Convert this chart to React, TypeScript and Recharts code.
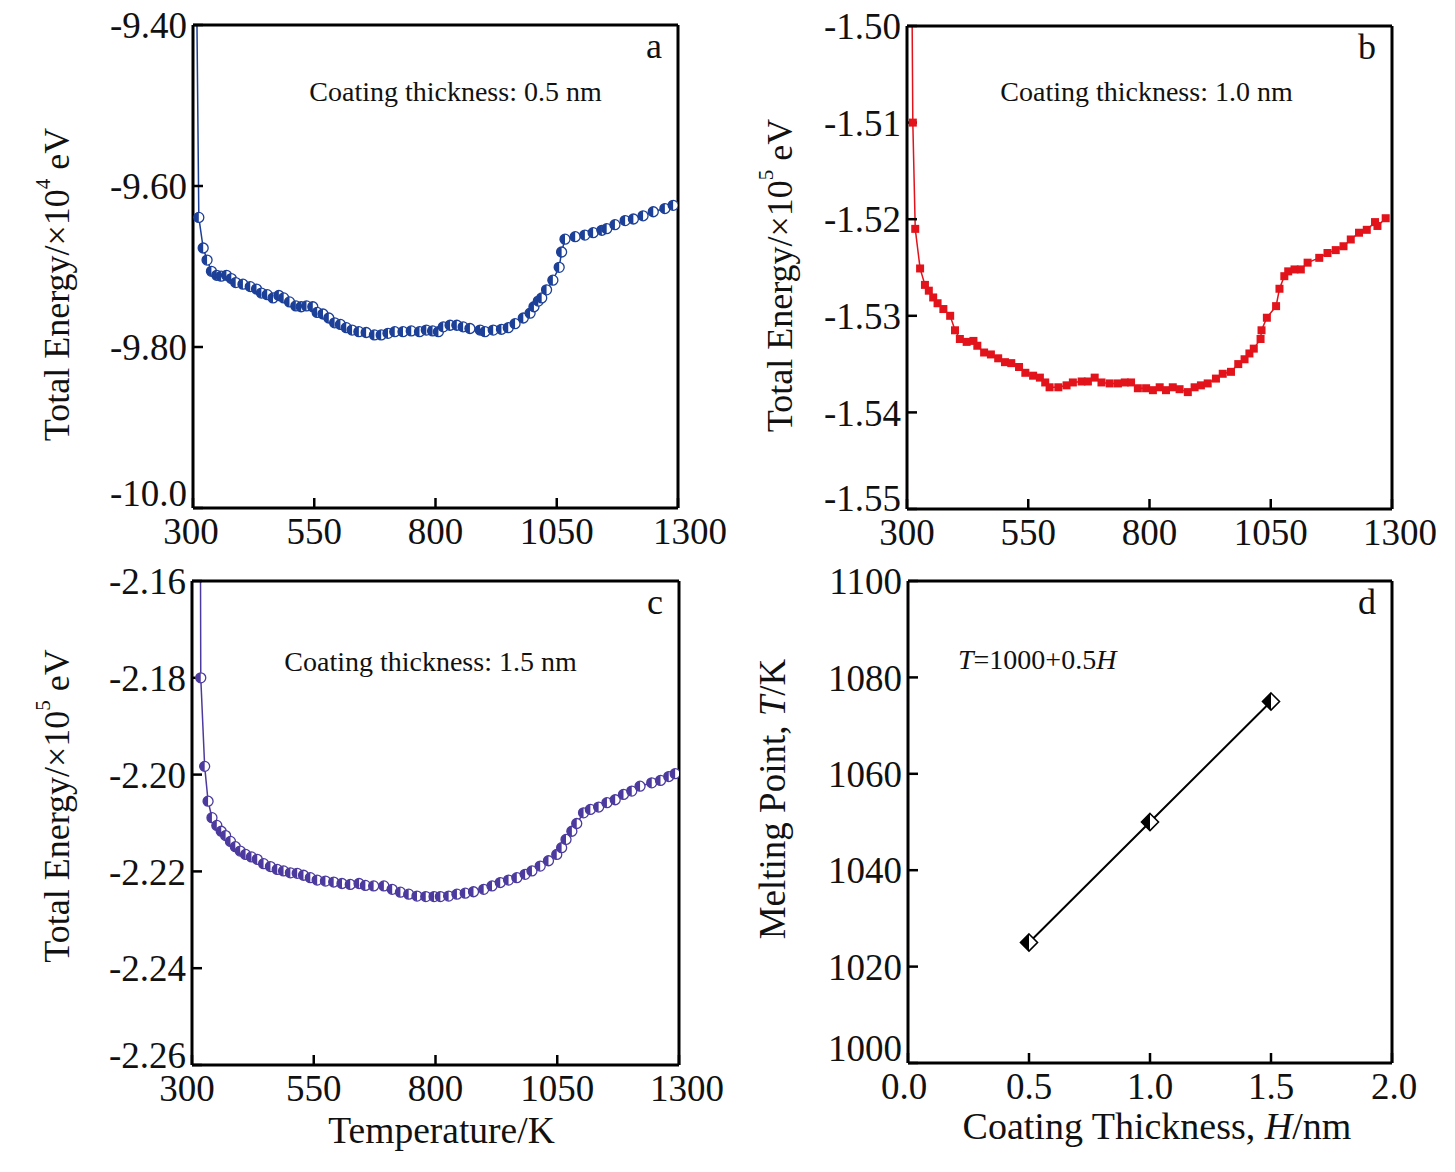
import React from 'react';
import { LineChart, Line, XAxis, YAxis } from 'recharts';

const SERIF = '"Liberation Serif", "Times New Roman", Times, serif';
const INK = '#111';

// shared temperature axis (a, b, c)
const tempTicks = [300, 550, 800, 1050, 1300];

// a: coating 0.5 nm, energy in 1e4 eV (first point is the off-scale lead-in)
const tempA = [305, 312, 321, 329, 338, 349, 358, 369, 379, 388, 403, 418, 431, 441, 453, 465, 477, 487, 499, 512, 523, 534, 547, 556, 568, 580, 592, 604, 616, 628, 642, 657, 674, 688, 702, 716, 733, 750, 767, 781, 794, 806, 816, 830, 844, 857, 871, 892, 902, 919, 936, 950, 964, 981, 995, 1003, 1012, 1019, 1029, 1042, 1055, 1060, 1067, 1088, 1108, 1125, 1143, 1153, 1170, 1191, 1208, 1228, 1249, 1273, 1290];
const energyA = [-9.2, -9.639, -9.677, -9.692, -9.706, -9.711, -9.712, -9.711, -9.715, -9.72, -9.722, -9.725, -9.728, -9.733, -9.735, -9.739, -9.736, -9.739, -9.744, -9.749, -9.75, -9.749, -9.75, -9.757, -9.759, -9.764, -9.77, -9.772, -9.776, -9.779, -9.781, -9.782, -9.785, -9.785, -9.783, -9.781, -9.781, -9.78, -9.781, -9.779, -9.78, -9.781, -9.775, -9.773, -9.773, -9.775, -9.777, -9.779, -9.781, -9.779, -9.778, -9.776, -9.771, -9.764, -9.758, -9.75, -9.743, -9.739, -9.729, -9.717, -9.701, -9.682, -9.666, -9.663, -9.661, -9.658, -9.655, -9.653, -9.648, -9.643, -9.641, -9.637, -9.632, -9.628, -9.624];
const ticksA = [-10.0, -9.8, -9.6, -9.4];
const labelsA = ['-10.0', '-9.80', '-9.60', '-9.40'];

// b: coating 1.0 nm, energy in 1e5 eV
const tempB = [308, 312, 317, 327, 337, 345, 354, 363, 375, 389, 399, 409, 423, 437, 445, 459, 473, 488, 502, 515, 531, 544, 560, 574, 585, 594, 612, 629, 642, 660, 673, 687, 701, 718, 735, 749, 762, 776, 793, 807, 821, 834, 848, 862, 879, 893, 906, 920, 937, 951, 968, 983, 996, 1006, 1015, 1029, 1031, 1042, 1061, 1068, 1078, 1086, 1099, 1112, 1126, 1150, 1167, 1184, 1200, 1215, 1232, 1248, 1265, 1270, 1287];
const energyB = [-1.48, -1.51, -1.521, -1.5251, -1.5268, -1.5274, -1.5281, -1.5287, -1.5293, -1.53, -1.5315, -1.5324, -1.5327, -1.5326, -1.5331, -1.5338, -1.534, -1.5344, -1.5348, -1.5349, -1.5353, -1.5359, -1.5362, -1.5364, -1.5369, -1.5374, -1.5374, -1.5372, -1.5369, -1.5368, -1.5368, -1.5364, -1.5369, -1.537, -1.537, -1.5369, -1.5369, -1.5375, -1.5375, -1.5377, -1.5374, -1.5377, -1.5374, -1.5376, -1.5379, -1.5374, -1.5372, -1.537, -1.5365, -1.536, -1.5358, -1.535, -1.5345, -1.5339, -1.5334, -1.5324, -1.5315, -1.5302, -1.529, -1.5272, -1.5259, -1.5254, -1.5252, -1.5252, -1.5245, -1.524, -1.5235, -1.5232, -1.5228, -1.5221, -1.5214, -1.5211, -1.5203, -1.5207, -1.5199];
const ticksB = [-1.55, -1.54, -1.53, -1.52, -1.51, -1.5];
const labelsB = ['-1.55', '-1.54', '-1.53', '-1.52', '-1.51', '-1.50'];

// c: coating 1.5 nm, energy in 1e5 eV
const tempC = [316, 318, 326, 333, 341, 351, 360, 369, 379, 389, 399, 410, 422, 434, 447, 461, 475, 488, 502, 516, 529, 543, 557, 574, 591, 608, 625, 643, 656, 673, 694, 711, 728, 745, 762, 780, 797, 810, 827, 844, 861, 878, 899, 916, 933, 950, 967, 984, 998, 1015, 1032, 1049, 1059, 1068, 1080, 1090, 1104, 1118, 1135, 1152, 1169, 1186, 1203, 1220, 1244, 1262, 1279, 1292];
const energyC = [-2.1, -2.18, -2.1983, -2.2055, -2.2089, -2.2105, -2.2117, -2.2126, -2.2138, -2.2149, -2.2158, -2.2165, -2.217, -2.2175, -2.2184, -2.219, -2.2196, -2.2199, -2.2203, -2.2204, -2.2208, -2.2213, -2.2218, -2.222, -2.2222, -2.2225, -2.2227, -2.2225, -2.2229, -2.223, -2.223, -2.2237, -2.2243, -2.2247, -2.2251, -2.2252, -2.2252, -2.2252, -2.2251, -2.2247, -2.2245, -2.2242, -2.2237, -2.223, -2.2223, -2.2218, -2.2213, -2.2206, -2.2199, -2.2189, -2.2178, -2.2165, -2.2151, -2.2134, -2.2117, -2.2101, -2.2079, -2.2072, -2.2067, -2.2058, -2.2052, -2.2041, -2.2034, -2.2024, -2.2017, -2.2012, -2.2004, -2.1998];
const ticksC = [-2.26, -2.24, -2.22, -2.2, -2.18, -2.16];
const labelsC = ['-2.26', '-2.24', '-2.22', '-2.20', '-2.18', '-2.16'];

// d: melting point vs coating thickness
const thickness = [0.5, 1.0, 1.5];
const meltingPoint = [1025, 1050, 1075];
const ticksDx = [0, 0.5, 1, 1.5, 2];
const labelsDx = ['0.0', '0.5', '1.0', '1.5', '2.0'];
const ticksDy = [1000, 1020, 1040, 1060, 1080, 1100];

const zip = (xs: number[], ys: number[]) => xs.map((x, i) => ({ x, y: ys[i] }));

const TICK_FONT = 37;
const frame = { stroke: '#000', strokeWidth: 3 };
const tickMark = { stroke: '#000', strokeWidth: 2.5 };

// axis box sizes (margins below are reduced by these)
const Y_W = 50;
const X_H = 30;
const EDGE = 2;

const same = (a: number, b: number) => Math.abs(a - b) < 1e-9;

const lookup = (ticks: number[], labels: string[]) => (v: number) => {
  const i = ticks.findIndex((t) => same(t, v));
  return i >= 0 ? labels[i] : String(v);
};

// y tick text; the lowest label is nudged up clear of the x labels
const yTick = (fmt: (v: number) => string, low: number, lowShift: number) => (props: any) => {
  const { x, y, payload } = props;
  const v = payload.value;
  return (
    <text x={x} y={y + (same(v, low) ? lowShift : 0)} dy="0.355em" textAnchor="end" fontFamily={SERIF} fontSize={TICK_FONT} fill={INK}>
      {fmt(v)}
    </text>
  );
};

const xTick = (fmt: (v: number) => string, first: number, firstShift: number, last: number, lastShift: number) => (props: any) => {
  const { x, y, payload } = props;
  const v = payload.value;
  const dx = same(v, first) ? firstShift : same(v, last) ? lastShift : 0;
  return (
    <text x={x + dx} y={y} dy="0.71em" textAnchor="middle" fontFamily={SERIF} fontSize={TICK_FONT} fill={INK}>
      {fmt(v)}
    </text>
  );
};

// half-filled circle (left half solid)
const halfCircle = (color: string, top: number) => (props: any) => {
  const { cx, cy, index, payload } = props;
  if (cx == null || cy == null || payload.y > top) return <g key={`d${index}`} />;
  const r = 5;
  return (
    <g key={`d${index}`}>
      <circle cx={cx} cy={cy} r={r} fill="#fff" stroke={color} strokeWidth={1.3} />
      <path d={`M${cx},${cy - r} A${r},${r} 0 0 0 ${cx},${cy + r} Z`} fill={color} />
    </g>
  );
};

const square = (color: string, top: number) => (props: any) => {
  const { cx, cy, index, payload } = props;
  if (cx == null || cy == null || payload.y > top) return <g key={`d${index}`} />;
  return <rect key={`d${index}`} x={cx - 4} y={cy - 4} width={8} height={8} fill={color} />;
};

const halfDiamond = (props: any) => {
  const { cx, cy, index } = props;
  if (cx == null || cy == null) return <g key={`d${index}`} />;
  const r = 8.5;
  return (
    <g key={`d${index}`}>
      <path d={`M${cx},${cy - r} L${cx + r},${cy} L${cx},${cy + r} L${cx - r},${cy} Z`} fill="#fff" stroke="#000" strokeWidth={1.6} />
      <path d={`M${cx},${cy - r} L${cx},${cy + r} L${cx - r},${cy} Z`} fill="#000" />
    </g>
  );
};

// rotated y title, offset from the axis line
const energyTitle = (power: string, dx: number, dy: number) => (props: any) => {
  const vb = props.viewBox;
  const x = vb.x + vb.width - dx;
  const y = vb.y + vb.height / 2 + dy;
  return (
    <text x={x} y={y} transform={`rotate(-90 ${x} ${y})`} textAnchor="middle" dominantBaseline="central" fontFamily={SERIF} fontSize={36} fill={INK}>
      Total Energy/×10<tspan fontSize={21} dy={-14}>{power}</tspan>
      <tspan dy={14}>{' eV'}</tspan>
    </text>
  );
};

const meltTitle = (props: any) => {
  const vb = props.viewBox;
  const x = vb.x + vb.width - 136;
  const y = vb.y + vb.height / 2 - 23;
  return (
    <text x={x} y={y} transform={`rotate(-90 ${x} ${y})`} textAnchor="middle" dominantBaseline="central" fontFamily={SERIF} fontSize={37} fill={INK}>
      Melting Point, <tspan fontStyle="italic">T</tspan>/K
    </text>
  );
};

const tempTitle = (props: any) => {
  const vb = props.viewBox;
  return (
    <text x={vb.x + vb.width / 2 + 6} y={vb.y + 78} textAnchor="middle" fontFamily={SERIF} fontSize={37.5} fill={INK}>
      Temperature/K
    </text>
  );
};

const thickTitle = (props: any) => {
  const vb = props.viewBox;
  return (
    <text x={vb.x + vb.width / 2 + 7} y={vb.y + 76} textAnchor="middle" fontFamily={SERIF} fontSize={38} fill={INK}>
      Coating Thickness, <tspan fontStyle="italic">H</tspan>/nm
    </text>
  );
};

// in-plot note and panel letter, placed from the top frame
const panelNote = (note: React.ReactNode, dx: number, dy: number, letter: string, start = false) => (props: any) => {
  const vb = props.viewBox;
  const top = vb.y + vb.height;
  return (
    <g>
      <text x={start ? vb.x + dx : vb.x + vb.width / 2 + dx} y={top + dy} textAnchor={start ? 'start' : 'middle'} fontFamily={SERIF} fontSize={28} fill={INK}>
        {note}
      </text>
      <text x={vb.x + vb.width - 16} y={top + 33} textAnchor="end" fontFamily={SERIF} fontSize={36} fill={INK}>
        {letter}
      </text>
    </g>
  );
};

type Box = { top: number; right: number; bottom: number; left: number };

type PanelProps = {
  left: number;
  top: number;
  width: number;
  height: number;
  plot: Box; // space around the plot frame inside the chart box
  data: { x: number; y: number }[];
  xDomain: number[];
  xTicks: number[];
  xTick: any;
  yDomain: number[];
  yTicks: number[];
  yTick: any;
  color: string;
  strokeWidth: number;
  dot: any;
  yTitle: any;
  xTitle?: any;
  note: any;
};

const Panel: React.FC<PanelProps> = (p) => (
  <div style={{ position: 'absolute', left: p.left, top: p.top }}>
    <LineChart
      width={p.width}
      height={p.height}
      data={p.data}
      margin={{ top: p.plot.top - EDGE, right: p.plot.right - EDGE, bottom: p.plot.bottom - X_H, left: p.plot.left - Y_W }}
    >
      <XAxis xAxisId="top" orientation="top" type="number" dataKey="x" domain={p.xDomain} allowDataOverflow height={EDGE} tick={false} tickLine={false} axisLine={frame} label={{ content: p.note }} />
      <YAxis yAxisId="right" orientation="right" type="number" dataKey="y" domain={p.yDomain} allowDataOverflow width={EDGE} tick={false} tickLine={false} axisLine={frame} />
      <XAxis
        type="number"
        dataKey="x"
        domain={p.xDomain}
        ticks={p.xTicks}
        allowDataOverflow
        interval={0}
        height={X_H}
        tickSize={-10}
        tickMargin={20}
        tick={p.xTick}
        tickLine={tickMark}
        axisLine={frame}
        label={p.xTitle ? { content: p.xTitle } : undefined}
      />
      <YAxis
        type="number"
        dataKey="y"
        domain={p.yDomain}
        ticks={p.yTicks}
        allowDataOverflow
        interval={0}
        width={Y_W}
        tickSize={-10}
        tickMargin={16}
        tick={p.yTick}
        tickLine={tickMark}
        axisLine={frame}
        label={{ content: p.yTitle }}
      />
      <Line type="linear" dataKey="y" stroke={p.color} strokeWidth={p.strokeWidth} dot={p.dot} activeDot={false} isAnimationActive={false} />
    </LineChart>
  </div>
);

const blue = '#1c3f97';
const red = '#e2131b';
const purple = '#4d3a9e';

export default function App() {
  const tFmt = (v: number) => String(v);
  return (
    <div style={{ position: 'absolute', left: 0, top: 0, width: 1455, height: 1172, background: '#fff' }}>
      <Panel
        left={0}
        top={0}
        width={740}
        height={560}
        plot={{ top: 25, left: 193, right: 62, bottom: 52 }}
        data={zip(tempA, energyA)}
        xDomain={[300, 1300]}
        xTicks={tempTicks}
        xTick={xTick(tFmt, 300, -2, 1300, 12)}
        yDomain={[-10, -9.4]}
        yTicks={ticksA}
        yTick={yTick(lookup(ticksA, labelsA), -10, -15)}
        color={blue}
        strokeWidth={1.5}
        dot={halfCircle(blue, -9.4)}
        yTitle={energyTitle('4', 136, 18)}
        note={panelNote('Coating thickness: 0.5 nm', 20, 76, 'a')}
      />
      <Panel
        left={720}
        top={0}
        width={735}
        height={560}
        plot={{ top: 26, left: 187, right: 63, bottom: 51 }}
        data={zip(tempB, energyB)}
        xDomain={[300, 1300]}
        xTicks={tempTicks}
        xTick={xTick(tFmt, 300, 0, 1300, 8)}
        yDomain={[-1.55, -1.5]}
        yTicks={ticksB}
        yTick={yTick(lookup(ticksB, labelsB), -1.55, -11)}
        color={red}
        strokeWidth={1.5}
        dot={square(red, -1.5)}
        yTitle={energyTitle('5', 127, 8)}
        note={panelNote('Coating thickness: 1.0 nm', -3, 75, 'b')}
      />
      <Panel
        left={0}
        top={560}
        width={740}
        height={612}
        plot={{ top: 21, left: 192, right: 61, bottom: 107 }}
        data={zip(tempC, energyC)}
        xDomain={[300, 1300]}
        xTicks={tempTicks}
        xTick={xTick(tFmt, 300, -5, 1300, 8)}
        yDomain={[-2.26, -2.16]}
        yTicks={ticksC}
        yTick={yTick(lookup(ticksC, labelsC), -2.26, -10)}
        color={purple}
        strokeWidth={1.5}
        dot={halfCircle(purple, -2.16)}
        yTitle={energyTitle('5', 135, -17)}
        xTitle={tempTitle}
        note={panelNote('Coating thickness: 1.5 nm', -5, 90, 'c')}
      />
      <Panel
        left={720}
        top={560}
        width={735}
        height={612}
        plot={{ top: 21, left: 188, right: 63, bottom: 109 }}
        data={zip(thickness, meltingPoint)}
        xDomain={[0, 2]}
        xTicks={ticksDx}
        xTick={xTick(lookup(ticksDx, labelsDx), 0, -4, 2, 2)}
        yDomain={[1000, 1100]}
        yTicks={ticksDy}
        yTick={yTick((v: number) => String(v), 1000, -15)}
        color="#000"
        strokeWidth={2}
        dot={halfDiamond}
        yTitle={meltTitle}
        xTitle={thickTitle}
        note={panelNote(
          <>
            <tspan fontStyle="italic">T</tspan>=1000+0.5<tspan fontStyle="italic">H</tspan>
          </>,
          50,
          88,
          'd',
          true,
        )}
      />
    </div>
  );
}
